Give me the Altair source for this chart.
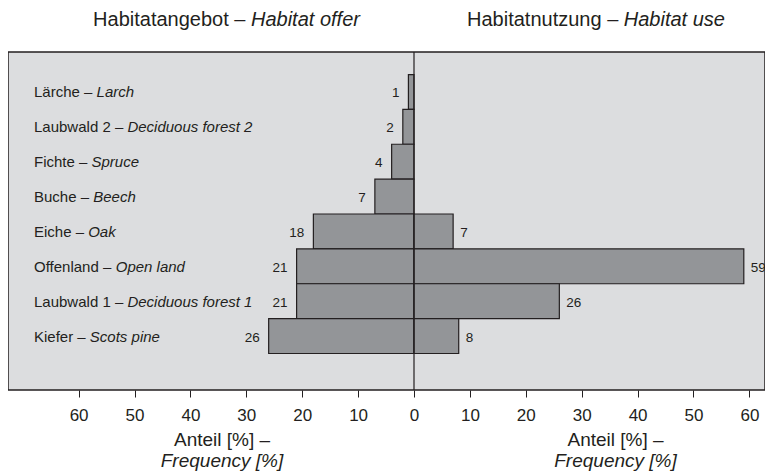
import altair as alt
import pandas as pd

# ---------------- data ----------------
categories_de = ["Lärche", "Laubwald 2", "Fichte", "Buche", "Eiche",
                 "Offenland", "Laubwald 1", "Kiefer"]
categories_en = ["Larch", "Deciduous forest 2", "Spruce", "Beech", "Oak",
                 "Open land", "Deciduous forest 1", "Scots pine"]
habitat_offer = [1, 2, 4, 7, 18, 21, 21, 26]   # Habitatangebot (left)
habitat_use = [0, 0, 0, 0, 7, 59, 26, 8]       # Habitatnutzung (right)
tick_values = [-60, -50, -40, -30, -20, -10, 0, 10, 20, 30, 40, 50, 60]

title_left = ("Habitatangebot – ", "Habitat offer")
title_right = ("Habitatnutzung – ", "Habitat use")
axis_title_line1 = "Anteil [%] –"
axis_title_line2 = "Frequency [%]"

# ---------------- style ----------------
FONT = "Liberation Sans"
DARK = "#231f20"
BG = "#dcdddf"
BAR = "#939598"
W, H = 757, 338
PPU = 5.59
CENTER_PX = 406.0
XDOM = [-CENTER_PX / PPU, (W - CENTER_PX) / PPU]
YDOM = [-1.146, 8.547]

# Arial / Liberation Sans advance widths (1/1000 em)
AW = {" ": 278, "–": 556, "a": 556, "b": 556, "c": 500, "d": 556, "e": 556,
      "f": 278, "g": 556, "h": 556, "i": 222, "k": 500, "l": 222, "m": 833,
      "n": 556, "o": 556, "p": 556, "r": 333, "s": 500, "t": 278, "u": 556,
      "w": 722, "y": 500, "z": 500, "ä": 556, "1": 556, "2": 556, "B": 667,
      "E": 667, "F": 611, "H": 722, "K": 667, "L": 556, "O": 778, "S": 667,
      "D": 722, "A": 667, "[": 278, "]": 278, "%": 889}


def tw(s, size):
    return sum(AW.get(ch, 556) for ch in s) * size / 1000.0


def px2x(px):
    return XDOM[0] + px / PPU


LBL = 15
VAL = 13.5
rows = pd.DataFrame({
    "idx": list(range(len(categories_de))),
    "de": [d + " – " for d in categories_de],
    "en": categories_en,
    "offer": habitat_offer,
    "use": habitat_use,
})
rows["neg_offer"] = -rows["offer"]
rows["zero"] = 0
rows["y0"] = rows["idx"] - 0.5
rows["y1"] = rows["idx"] + 0.5
rows["x_de"] = px2x(26)
rows["x_en"] = [px2x(26 + tw(d, LBL)) for d in rows["de"]]
rows_use = rows[rows["use"] > 0]

AXIS = alt.Axis(values=tick_values, labelExpr="format(abs(datum.value), 'd')",
                domain=False, grid=False, ticks=True, tickSize=7, tickColor=DARK,
                tickWidth=1, labelFontSize=17, labelFont=FONT, labelColor=DARK,
                labelPadding=10, title=None, labelFlush=False, labelOverlap=False)
XS = alt.Scale(domain=XDOM, nice=False, zero=False)
YS = alt.Scale(domain=YDOM, nice=False, zero=False, reverse=True)


def X(f):
    return alt.X(f, type="quantitative", scale=XS, axis=AXIS)


def X2(f):
    return alt.X2(f)


def Y(f):
    return alt.Y(f, type="quantitative", scale=YS, axis=None)


base = alt.Chart(rows)

bars_left = base.mark_rect(fill=BAR, stroke=DARK, strokeWidth=1.2).encode(
    x=X("neg_offer"), x2=X2("zero"), y=Y("y0"), y2=alt.Y2("y1"))
bars_right = alt.Chart(rows_use).mark_rect(fill=BAR, stroke=DARK, strokeWidth=1.2).encode(
    x=X("zero"), x2=X2("use"), y=Y("y0"), y2=alt.Y2("y1"))

center = alt.Chart(pd.DataFrame({"c": [0]})).mark_rule(color=DARK, strokeWidth=1.2).encode(
    x=X("c"), y=alt.value(0), y2=alt.value(H))

lab_de = base.mark_text(align="left", baseline="alphabetic", dy=5.5, font=FONT,
                        fontSize=LBL, color=DARK).encode(x=X("x_de"), y=Y("idx"), text="de")
lab_en = base.mark_text(align="left", baseline="alphabetic", dy=5.5, font=FONT,
                        fontSize=LBL, fontStyle="italic", color=DARK).encode(
    x=X("x_en"), y=Y("idx"), text="en")

val_left = base.mark_text(align="right", baseline="alphabetic", dx=-9, dy=5.5, font=FONT,
                          fontSize=VAL, color=DARK).encode(x=X("neg_offer"), y=Y("idx"), text="offer:Q")
val_right = alt.Chart(rows_use).mark_text(align="left", baseline="alphabetic", dx=7, dy=5.5,
                                          font=FONT, fontSize=VAL, color=DARK).encode(
    x=X("use"), y=Y("idx"), text="use:Q")

# top titles (mixed upright / italic)
TS = 20
tl = []
for (de, en), cpx in [(title_left, 218.5), (title_right, 588.0)]:
    total = tw(de, TS) + tw(en, TS)
    start = cpx - total / 2
    tl.append({"de": de, "en": en, "x_de": px2x(start), "x_en": px2x(start + tw(de, TS))})
titles = pd.DataFrame(tl)
t_de = alt.Chart(titles).mark_text(align="left", baseline="alphabetic", font=FONT, fontSize=TS,
                                   color=DARK).encode(x=X("x_de"), y=alt.value(-26.3), text="de")
t_en = alt.Chart(titles).mark_text(align="left", baseline="alphabetic", font=FONT, fontSize=TS,
                                   fontStyle="italic", color=DARK).encode(
    x=X("x_en"), y=alt.value(-26.3), text="en")

# bottom axis titles (two lines)
BS = 19
bt = pd.DataFrame({"x": [px2x(214), px2x(607.5)],
                   "l1": [axis_title_line1, axis_title_line1],
                   "l2": [axis_title_line2, axis_title_line2]})
b1 = alt.Chart(bt).mark_text(align="center", baseline="alphabetic", font=FONT, fontSize=BS,
                             color=DARK).encode(x=X("x"), y=alt.value(393.5), text="l1")
b2 = alt.Chart(bt).mark_text(align="center", baseline="alphabetic", font=FONT, fontSize=BS,
                             fontStyle="italic", color=DARK).encode(x=X("x"), y=alt.value(415), text="l2")

chart = alt.layer(bars_left, bars_right, center, lab_de, lab_en, val_left, val_right,
                  t_de, t_en, b1, b2).properties(
    width=W, height=H,
    autosize=alt.AutoSizeParams(type="none"),
    padding={"left": 0, "top": 44, "right": 0, "bottom": 81},
).configure(
    background="white",
    view=alt.ViewConfig(fill=BG, stroke=DARK, strokeWidth=1.5),
)

chart.save("out.html", embed_options={"renderer": "svg", "actions": False})
